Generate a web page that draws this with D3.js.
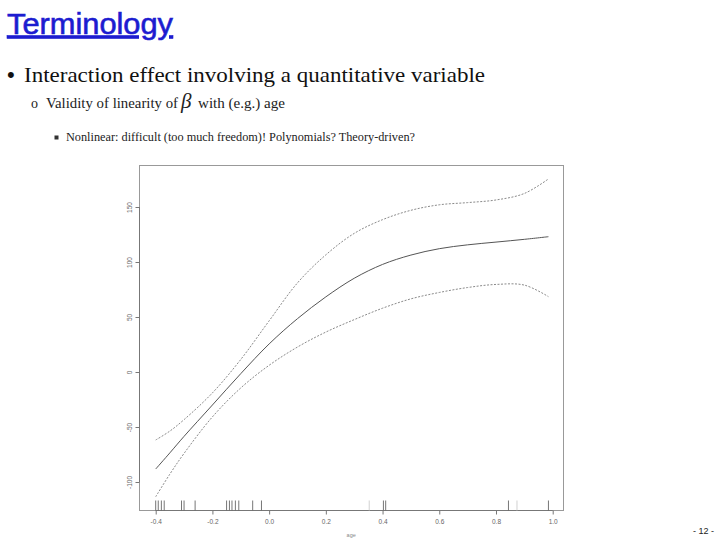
<!DOCTYPE html>
<html>
<head>
<meta charset="utf-8">
<script src="https://cdn.jsdelivr.net/npm/d3@7"></script>
<style>
  html, body { margin: 0; padding: 0; background: #fff; }
  svg { display: block; }
</style>
</head>
<body>
<svg id="chart" width="720" height="540"></svg>
<script>
// ---- data ----
const ages      = [-0.4, -0.35, -0.3, -0.2, -0.1, 0.0, 0.1, 0.2, 0.3, 0.4, 0.5, 0.6, 0.7, 0.8, 0.9, 0.985];
const fitMid    = [-88.2, -73.5, -58.5, -30.0, -1.5, 25.5, 48.5, 68.3, 85.2, 97.8, 106.3, 112.1, 115.6, 118.1, 120.6, 123.0];
const fitUpper  = [-61.8, -53.7, -43.3, -19.0, 11.4, 46.5, 81.0, 106.5, 126.0, 138.5, 147.0, 152.0, 154.0, 156.4, 162.3, 175.5];
const fitLower  = [-113.4, -92.8, -74.0, -40.8, -14.5, 6.1, 22.7, 36.3, 47.6, 58.0, 66.5, 72.3, 76.8, 79.6, 79.0, 68.5];
const rugAges   = [-0.400, -0.391, -0.380, -0.370, -0.309, -0.300, -0.261, -0.150, -0.140, -0.131, -0.119, -0.107, -0.058, -0.027, 0.353, 0.403, 0.411, 0.844, 0.874, 0.985];
const rugLight  = [false, false, false, false, false, false, false, false, false, false, false, false, false, false, true, false, false, false, true, false];
const yTicks    = [-100, -50, 0, 50, 100, 150];
const xTicks    = [-0.4, -0.2, 0.0, 0.2, 0.4, 0.6, 0.8, 1.0];
const xLabel    = "age";

const title     = "Terminology";
const bullet1   = "Interaction effect involving a quantitative variable";
const bullet2a  = "Validity of linearity of";
const bullet2b  = "with (e.g.) age";
const bullet3   = "Nonlinear: difficult (too much freedom)! Polynomials? Theory-driven?";
const pageNo    = "- 12 -";

// ---- layout ----
const svg = d3.select("#chart");
svg.append("rect").attr("width", 720).attr("height", 540).attr("fill", "#fff");

const box = {left: 139.5, right: 563.5, top: 165.5, bottom: 510.5};
const x = d3.scaleLinear().domain([-0.4, 1.0]).range([155.7, 552.7]);
const y = d3.scaleLinear().domain([-100, 150]).range([482, 207]);

// ---- slide text ----
svg.append("text")
  .attr("x", 7).attr("y", 33.5)
  .attr("font-family", "Liberation Sans, Arial, sans-serif")
  .attr("font-size", 30)
  .attr("textLength", 166)
  .attr("lengthAdjust", "spacingAndGlyphs")
  .attr("fill", "#1c1cd0")
  .attr("stroke", "#1c1cd0").attr("stroke-width", 0.6)
  .attr("text-decoration", "underline")
  .text(title);

svg.append("text")
  .attr("x", 7).attr("y", 82)
  .attr("font-family", "Liberation Sans, Arial, sans-serif")
  .attr("font-size", 22)
  .attr("fill", "#111")
  .text("•");

svg.append("text")
  .attr("x", 24).attr("y", 81.5)
  .attr("font-family", "Liberation Serif, Times New Roman, serif")
  .attr("font-size", 21)
  .attr("textLength", 461)
  .attr("lengthAdjust", "spacingAndGlyphs")
  .attr("fill", "#111")
  .text(bullet1);

svg.append("text")
  .attr("x", 31).attr("y", 108)
  .attr("font-family", "Liberation Serif, serif")
  .attr("font-size", 14)
  .attr("fill", "#222")
  .text("o");

svg.append("text")
  .attr("x", 46).attr("y", 108)
  .attr("font-family", "Liberation Serif, serif")
  .attr("font-size", 15)
  .attr("textLength", 132)
  .attr("lengthAdjust", "spacingAndGlyphs")
  .attr("fill", "#222")
  .text(bullet2a);

svg.append("text")
  .attr("x", 181).attr("y", 108)
  .attr("font-family", "Liberation Serif, serif")
  .attr("font-size", 21)
  .attr("font-style", "italic")
  .attr("fill", "#222")
  .text("β");

svg.append("text")
  .attr("x", 198).attr("y", 108)
  .attr("font-family", "Liberation Serif, serif")
  .attr("font-size", 15)
  .attr("textLength", 87)
  .attr("lengthAdjust", "spacingAndGlyphs")
  .attr("fill", "#222")
  .text(bullet2b);

svg.append("rect")
  .attr("x", 54.5).attr("y", 135.5).attr("width", 4).attr("height", 4)
  .attr("fill", "#333");

svg.append("text")
  .attr("x", 66).attr("y", 141)
  .attr("font-family", "Liberation Serif, serif")
  .attr("font-size", 12)
  .attr("textLength", 349)
  .attr("lengthAdjust", "spacingAndGlyphs")
  .attr("fill", "#222")
  .text(bullet3);

svg.append("text")
  .attr("x", 714).attr("y", 534)
  .attr("text-anchor", "end")
  .attr("font-family", "Liberation Sans, Arial, sans-serif")
  .attr("font-size", 9)
  .attr("fill", "#222")
  .text(pageNo);

// ---- plot frame ----
svg.append("rect")
  .attr("x", box.left).attr("y", box.top)
  .attr("width", box.right - box.left).attr("height", box.bottom - box.top)
  .attr("fill", "none").attr("stroke", "#999").attr("stroke-width", 1);

// ---- axes ----
const yAxis = svg.append("g")
  .attr("transform", `translate(${box.left},0)`)
  .call(d3.axisLeft(y).tickValues(yTicks).tickSize(4).tickSizeOuter(0).tickFormat(d => String(d)));
yAxis.select(".domain").attr("stroke", "#777")
  .attr("d", `M0,${y(yTicks[0])}V${y(yTicks[yTicks.length-1])}`);
yAxis.selectAll(".tick line").attr("stroke", "#777");
yAxis.selectAll(".tick text")
  .attr("x", null).attr("dy", null)
  .attr("transform", "rotate(-90)")
  .attr("y", -8)
  .attr("text-anchor", "middle")
  .attr("font-family", "Liberation Sans, Arial, sans-serif")
  .attr("font-size", 6.5)
  .attr("fill", "#666");

const xAxis = svg.append("g")
  .attr("transform", `translate(0,${box.bottom})`)
  .call(d3.axisBottom(x).tickValues(xTicks).tickSize(4).tickSizeOuter(0).tickFormat(d => d.toFixed(1)));
xAxis.select(".domain").attr("stroke", "#777")
  .attr("d", `M${x(xTicks[0])},0H${x(xTicks[xTicks.length-1])}`);
xAxis.selectAll(".tick line").attr("stroke", "#777");
xAxis.selectAll(".tick text")
  .attr("y", 9)
  .attr("font-family", "Liberation Sans, Arial, sans-serif")
  .attr("font-size", 6.5)
  .attr("fill", "#666");

svg.append("text")
  .attr("x", (x(-0.4) + x(1.0)) / 2 - 3).attr("y", 537)
  .attr("text-anchor", "middle")
  .attr("font-family", "Liberation Sans, Arial, sans-serif")
  .attr("font-size", 5.5)
  .attr("fill", "#888")
  .text(xLabel);

// ---- rug ----
svg.append("g").selectAll("line")
  .data(rugAges)
  .join("line")
  .attr("x1", d => x(d)).attr("x2", d => x(d))
  .attr("y1", box.bottom - 10).attr("y2", box.bottom)
  .attr("stroke", (d, i) => rugLight[i] ? "#ccc" : "#666")
  .attr("stroke-width", 0.9);

// ---- curves ----
const line = d3.line()
  .x(d => x(d[0]))
  .y(d => y(d[1]))
  .curve(d3.curveCatmullRom.alpha(0.5));

const series = [
  {vals: fitUpper, color: "#8a8a8a", dash: "2,1.5", w: 1},
  {vals: fitMid,   color: "#555",    dash: null,    w: 1},
  {vals: fitLower, color: "#8a8a8a", dash: "2,1.5", w: 1}
];
svg.append("g").selectAll("path")
  .data(series)
  .join("path")
  .attr("d", s => line(ages.map((a, i) => [a, s.vals[i]])))
  .attr("fill", "none")
  .attr("stroke", s => s.color)
  .attr("stroke-width", s => s.w)
  .attr("stroke-dasharray", s => s.dash);
</script>
</body>
</html>
